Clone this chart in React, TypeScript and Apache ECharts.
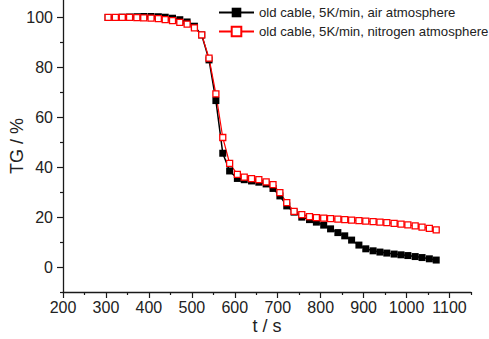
import React, { useEffect, useRef } from "react";
import * as echarts from "echarts";

const tValues = [
  305, 322, 338, 355, 372, 388, 405, 422, 438, 455, 472, 489, 506, 523, 540, 556,
  572, 588, 606, 622, 639, 656, 673, 689, 705, 721, 738, 756, 774, 790, 807, 823,
  840, 856, 872, 889, 905, 922, 938, 954, 971, 987, 1003, 1020, 1036, 1053, 1069,
];

const airTG = [
  100, 100, 100.1, 100.2, 100.3, 100.4, 100.4, 100.3, 100.1, 99.7, 99.1, 98.2, 96.5, 93, 83, 66.7,
  45.6, 38.5, 35.5, 35, 34.5, 34, 33.3, 31.5, 28.5, 24.5, 22, 20, 19, 18, 16.8, 15.3,
  13.8, 12.5, 10.8, 8.8, 7.3, 6.5, 6, 5.6, 5.2, 4.9, 4.6, 4.2, 3.8, 3.3, 2.8,
];

const nitrogenTG = [
  100, 100, 100, 100, 99.9, 99.8, 99.7, 99.5, 99.1, 98.7, 98, 97.3, 95.8, 93, 83.7, 69.4,
  51.9, 41.5, 37.1, 36, 35.4, 35, 34.1, 33, 29.8, 25.8, 22.3, 21, 20.2, 19.8, 19.6, 19.4,
  19.2, 19.0, 18.8, 18.6, 18.4, 18.2, 18.0, 17.8, 17.5, 17.2, 16.9, 16.5, 16.0, 15.5, 14.9,
];

const seriesNames = [
  "old cable, 5K/min, air atmosphere",
  "old cable, 5K/min, nitrogen atmosphere",
];

const xMajorTicks = [200, 300, 400, 500, 600, 700, 800, 900, 1000, 1100];
const xMinorTicks = [250, 350, 450, 550, 650, 750, 850, 950, 1050, 1150];
const yMajorTicks = [0, 20, 40, 60, 80, 100];
const yMinorTicks = [-10, 10, 30, 50, 70, 90];

const FONT = "Liberation Sans, Arial, sans-serif";
const AXIS_COLOR = "#1a1a1a";

export default function App() {
  const ref = useRef<HTMLDivElement>(null);

  useEffect(() => {
    if (!ref.current) return;
    const chart = echarts.init(ref.current, undefined, { renderer: "svg" });
    const airData = tValues.map((t, i) => [t, airTG[i]]);
    const n2Data = tValues.map((t, i) => [t, nitrogenTG[i]]);
    const plain = (v: number) => String(v);

    chart.setOption({
      animation: false,
      backgroundColor: "#ffffff",
      textStyle: { fontFamily: FONT },
      grid: { left: 63, right: 18, top: 0, bottom: 47, containLabel: false, outerBoundsMode: "none" },
      legend: {
        orient: "vertical",
        left: 218,
        top: 6,
        itemWidth: 35,
        itemHeight: 12,
        itemGap: 6,
        padding: 0,
        textStyle: { fontFamily: FONT, fontSize: 13.2, color: "#222" },
        data: seriesNames,
      },
      xAxis: [
        {
          type: "value",
          min: 200,
          max: 1150,
          interval: 100,
          position: "bottom",
          name: "t / s",
          nameLocation: "middle",
          nameGap: 25,
          nameMoveOverlap: false,
          nameTextStyle: { fontFamily: FONT, fontSize: 18, color: "#222" },
          axisLine: { show: true, onZero: false, lineStyle: { color: AXIS_COLOR, width: 1.3 } },
          axisTick: { show: true, length: 6, customValues: xMajorTicks, lineStyle: { color: AXIS_COLOR, width: 1.2 } },
          axisLabel: { customValues: xMajorTicks, formatter: plain, margin: 7, fontFamily: FONT, fontSize: 16, color: "#222" },
          splitLine: { show: false },
        },
        {
          type: "value",
          min: 200,
          max: 1150,
          interval: 50,
          position: "bottom",
          offset: 0,
          axisLine: { show: false, onZero: false },
          axisTick: { show: true, length: 3, customValues: xMinorTicks, lineStyle: { color: AXIS_COLOR, width: 1.2 } },
          axisLabel: { show: false },
          splitLine: { show: false },
        },
      ],
      yAxis: [
        {
          type: "value",
          min: -10,
          max: 107,
          interval: 10,
          position: "left",
          name: "TG / %",
          nameLocation: "middle",
          nameGap: 37,
          nameMoveOverlap: false,
          nameTextStyle: { fontFamily: FONT, fontSize: 18, color: "#222" },
          axisLine: { show: true, onZero: false, lineStyle: { color: AXIS_COLOR, width: 1.3 } },
          axisTick: { show: true, length: 6, customValues: yMajorTicks, lineStyle: { color: AXIS_COLOR, width: 1.2 } },
          axisLabel: { customValues: yMajorTicks, formatter: plain, margin: 10, fontFamily: FONT, fontSize: 16, color: "#222" },
          splitLine: { show: false },
        },
        {
          type: "value",
          min: -10,
          max: 107,
          interval: 10,
          position: "left",
          offset: 0,
          axisLine: { show: false, onZero: false },
          axisTick: { show: true, length: 3, customValues: yMinorTicks, lineStyle: { color: AXIS_COLOR, width: 1.2 } },
          axisLabel: { show: false },
          splitLine: { show: false },
        },
      ],
      series: [
        {
          name: seriesNames[0],
          type: "line",
          xAxisIndex: 0,
          yAxisIndex: 0,
          data: airData,
          symbol: "rect",
          symbolSize: 7,
          showAllSymbol: true,
          lineStyle: { color: "#000", width: 1.5 },
          itemStyle: { color: "#000", borderColor: "#000", borderWidth: 0 },
        },
        {
          name: seriesNames[1],
          type: "line",
          xAxisIndex: 0,
          yAxisIndex: 0,
          data: n2Data,
          symbol: "rect",
          symbolSize: 6,
          showAllSymbol: true,
          lineStyle: { color: "#ff0000", width: 1.2 },
          itemStyle: { color: "#ffffff", borderColor: "#ff0000", borderWidth: 1.3 },
        },
      ],
    });

    return () => chart.dispose();
  }, []);

  return (
    <div
      ref={ref}
      style={{ position: "fixed", left: 0, top: 0, width: 489, height: 339 }}
    />
  );
}
